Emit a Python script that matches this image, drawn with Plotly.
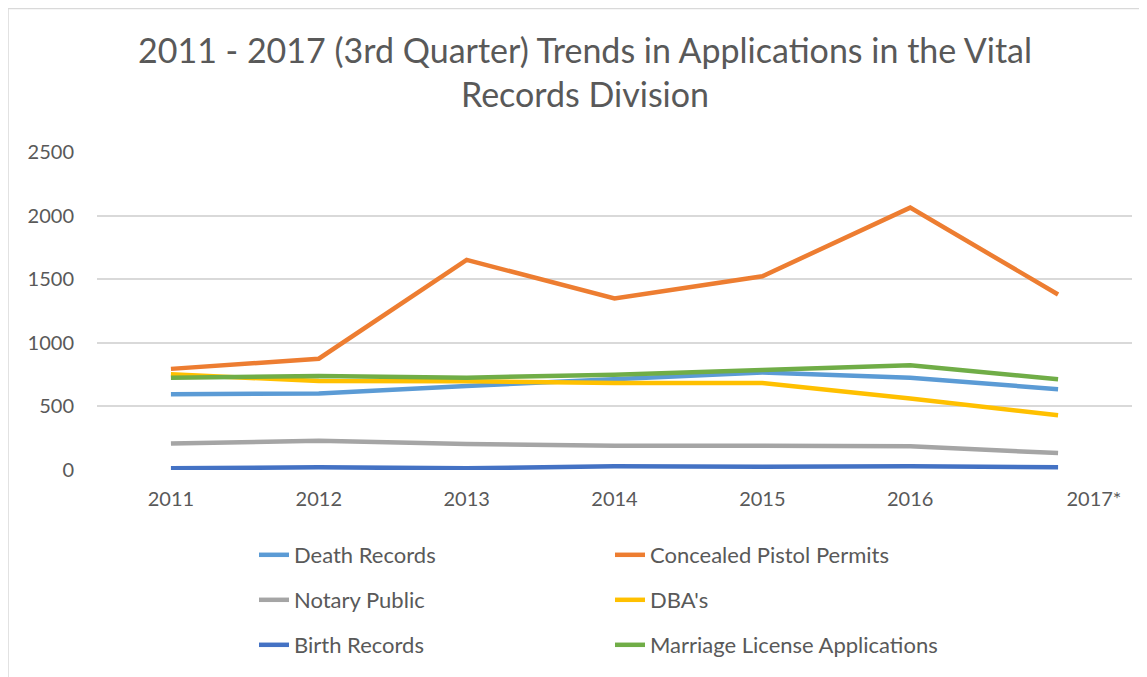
import plotly.graph_objects as go

years = ["2011", "2012", "2013", "2014", "2015", "2016", "2017*"]
tick_labels = ["2011", "2012", "2013", "2014", "2015", "2016", "\u00a0" * 14 + "2017*"]

death_records = [596, 601, 661, 713, 766, 726, 635]
concealed_pistol = [795, 875, 1652, 1348, 1523, 2063, 1380]
notary_public = [209, 230, 204, 191, 191, 186, 133]
dbas = [752, 700, 697, 684, 684, 562, 431]
birth_records = [13, 21, 13, 29, 26, 29, 21]
marriage_license = [726, 739, 726, 748, 786, 823, 713]

series = [
    ("Death Records", death_records, "#5B9BD5", "legend"),
    ("Concealed Pistol Permits", concealed_pistol, "#ED7D31", "legend"),
    ("Notary Public", notary_public, "#A5A5A5", "legend2"),
    ("DBA's", dbas, "#FFC000", "legend2"),
    ("Birth Records", birth_records, "#4472C4", "legend3"),
    ("Marriage License Applications", marriage_license, "#70AD47", "legend3"),
]

FONT = "Lato"
TXT = "#595959"

fig = go.Figure()
for name, vals, color, lg in series:
    fig.add_trace(go.Scatter(
        x=years, y=vals, name=name, mode="lines",
        line=dict(color=color, width=4.5),
        legend=lg,
    ))

W, H = 1139, 669
L, R, T, B = 89, 15, 144, 206
pw = W - L - R
ph = H - T - B
plot_bottom = H - B


def legend_def(top_px):
    return dict(
        orientation="h",
        x=(246 - L) / pw, xanchor="left",
        y=(plot_bottom - top_px) / ph, yanchor="top",
        entrywidth=311, entrywidthmode="pixels",
        font=dict(family=FONT, size=22, color=TXT),
        bgcolor="rgba(0,0,0,0)",
    )


fig.update_layout(
    width=W, height=H,
    margin=dict(l=L, r=R, t=T, b=B),
    paper_bgcolor="white", plot_bgcolor="white",
    font=dict(family=FONT, color=TXT, size=20),
    title=dict(
        text="2011 - 2017 (3rd Quarter) Trends in Applications in the Vital<br>Records Division",
        x=577 / W, xanchor="center", xref="container",
        y=1 - 55 / H, yanchor="top", yref="container",
        font=dict(family=FONT, size=34, color=TXT),
    ),
    xaxis=dict(
        type="category", range=[-0.5, 6.5],
        tickmode="array", tickvals=years, ticktext=tick_labels,
        showgrid=False, zeroline=False, showline=False,
        ticks="", ticklabelstandoff=15,
        tickfont=dict(family=FONT, size=20, color=TXT),
    ),
    yaxis=dict(
        range=[0, 2500], tickvals=[0, 500, 1000, 1500, 2000, 2500],
        showgrid=True, gridcolor="#D9D9D9", gridwidth=1.5,
        zeroline=False, showline=False, ticks="",
        ticklabelstandoff=22,
        tickfont=dict(family=FONT, size=20, color=TXT),
    ),
    legend=legend_def(526),
    legend2=legend_def(571),
    legend3=legend_def(616),
    showlegend=True,
)

fig.add_shape(
    type="rect", xref="paper", yref="paper",
    x0=(0 - L) / pw, x1=(1160 - L) / pw,
    y0=(plot_bottom - 700) / ph, y1=(plot_bottom - 0) / ph,
    line=dict(color="#D9D9D9", width=1.5), fillcolor="rgba(0,0,0,0)",
    layer="below",
)

fig.write_html("out.html")
